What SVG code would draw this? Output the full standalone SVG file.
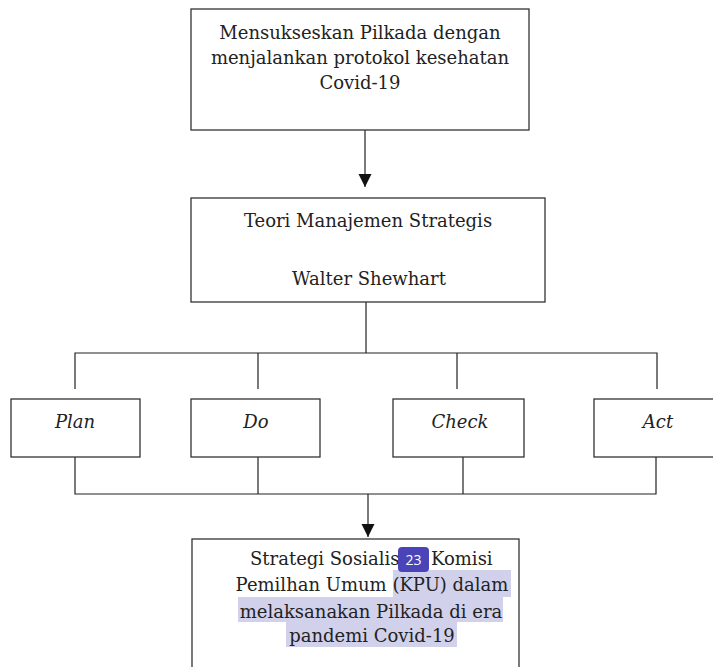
<svg xmlns="http://www.w3.org/2000/svg" width="713" height="667" viewBox="0 0 713 667">
<style>
.box{fill:#fff;stroke:#333;stroke-width:1.3}
.ln{fill:none;stroke:#222;stroke-width:1.2}
text{font-family:"DejaVu Serif","Liberation Serif",serif;font-size:18px;fill:#222;text-anchor:middle}
.it{font-style:italic}
.st{text-anchor:start}
.hl{fill:#d2d1ec}
.badge{fill:#4a44b8}
.bt{font-family:"Open Sans","Noto Sans",sans-serif;font-size:14px;fill:#fff}
</style>
<defs>
<marker id="ah" markerWidth="14" markerHeight="14" refX="13" refY="6.5" orient="auto" markerUnits="userSpaceOnUse">
<path d="M0,0 L13,6.5 L0,13 Z" fill="#111"/>
</marker>
</defs>
<rect width="713" height="667" fill="#fff"/>
<g id="connectors">
<line class="ln" x1="365" y1="130" x2="365" y2="187" marker-end="url(#ah)"/>
<path class="ln" d="M366,302 V353 M75,389 V353 H657 V389 M258,353 V389 M457,353 V389"/>
<path class="ln" d="M75,457 V494 H656 V457 M258,457 V494 M463,457 V494"/>
<line class="ln" x1="368" y1="494" x2="368" y2="537" marker-end="url(#ah)"/>
</g>
<g id="n1">
<rect class="box" x="191" y="9" width="338" height="121"/>
<text x="360" y="39">Mensukseskan Pilkada dengan</text>
<text x="360" y="64">menjalankan protokol kesehatan</text>
<text x="360" y="89">Covid-19</text>
</g>
<g id="n2">
<rect class="box" x="191" y="198" width="354" height="104"/>
<text x="368" y="227">Teori Manajemen Strategis</text>
<text x="369" y="285">Walter Shewhart</text>
</g>
<g id="plan">
<rect class="box" x="11" y="399" width="129" height="58"/>
<text class="it" x="75" y="428">Plan</text>
</g>
<g id="do">
<rect class="box" x="191" y="399" width="129" height="58"/>
<text class="it" x="256" y="428">Do</text>
</g>
<g id="check">
<rect class="box" x="393" y="399" width="131" height="58"/>
<text class="it" x="460" y="428">Check</text>
</g>
<g id="act">
<rect class="box" x="594" y="399" width="130" height="58"/>
<text class="it" x="658" y="428">Act</text>
</g>
<g id="n3">
<rect class="box" x="192" y="539" width="327" height="140"/>
<rect class="hl" x="393" y="570" width="118" height="27"/>
<rect class="hl" x="238" y="597" width="265" height="25"/>
<rect class="hl" x="286" y="622" width="171" height="25"/>
<text class="st" x="250" y="565">Strategi Sosialis</text>
<text class="st" x="431" y="565">Komisi</text>
<rect class="badge" x="398" y="547" width="31" height="25" rx="4"/>
<text class="bt" x="413.5" y="565">23</text>
<text x="372" y="591">Pemilhan Umum (KPU) dalam</text>
<text x="371" y="618">melaksanakan Pilkada di era</text>
<text x="372" y="642">pandemi Covid-19</text>
</g>
</svg>
